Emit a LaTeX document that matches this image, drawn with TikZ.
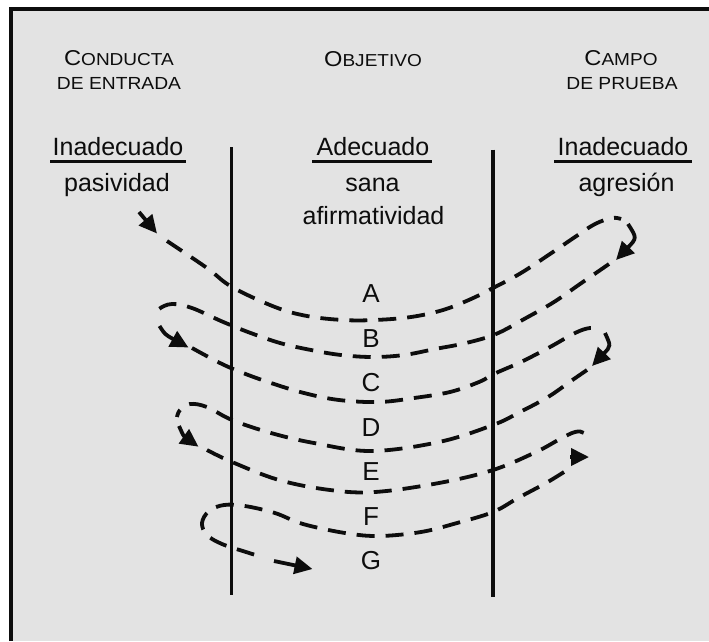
\documentclass[tikz,border=0pt]{standalone}
\usepackage{fontspec}
\setmainfont{Liberation Sans}
\newfontfamily\hdrfont[FakeStretch=1.1]{Liberation Sans}
\usetikzlibrary{arrows.meta}
\definecolor{bgfill}{HTML}{E3E3E3}
\definecolor{ink}{HTML}{0D0D0D}
\newcommand\hdrsc[2]{{\fontsize{21.5}{21.5}\selectfont #1}{\fontsize{17.3}{17.3}\selectfont #2}}
\begin{document}
\begin{tikzpicture}[x=1pt,y=-1pt,
  big/.style={font=\fontsize{25}{30}\selectfont, inner sep=0pt, anchor=base, text=ink},
  letter/.style={font=\fontsize{26}{30}\selectfont, inner sep=0pt, anchor=base, text=ink},
  hdr/.style={font=\hdrfont, inner sep=0pt, anchor=base, text=ink},
  hdrtwo/.style={font=\hdrfont\fontsize{17.5}{17.5}\selectfont, inner sep=0pt, anchor=base, text=ink},
  uline/.style={line width=3pt, ink},
  divider/.style={line width=3.5pt, ink},
  curve/.style={line width=3.8pt, ink, dash pattern=on 18pt off 11pt},
  lead/.style={line width=3.8pt, ink, -{Triangle[length=18pt,width=17pt]}},
  tip/.style={-{Triangle[length=18pt,width=17pt]}}]
\useasboundingbox (0,0) rectangle (709,641);
\fill[white] (0,0) rectangle (709,641);
\fill[bgfill] (11.3,8.5) rectangle (709,641);
\draw[line width=4pt, ink] (11.3,641) -- (11.3,8.5) -- (709,8.5);

% headers
\node[hdr] (h1a) at (119,65) {\hdrsc{C}{ONDUCTA}};
\node[hdrtwo] (h1b) at (119,89.3) {DE ENTRADA};
\node[hdr] (h2a) at (373,66) {\hdrsc{O}{BJETIVO}};
\node[hdr] (h3a) at (621,65) {\hdrsc{C}{AMPO}};
\node[hdrtwo] (h3b) at (622,89.3) {DE PRUEBA};

% column labels
\node[big] (l1) at (118,155) {Inadecuado};
\draw[uline] (50,161.5) -- (186,161.5);
\node[big] (l2) at (117,191) {pasividad};
\node[big] (m1) at (373,155) {Adecuado};
\draw[uline] (312,161.5) -- (432,161.5);
\node[big] (m2) at (372.5,191.5) {sana};
\node[big] (m3) at (373.5,224.3) {afirmatividad};
\node[big] (r1) at (623,155) {Inadecuado};
\draw[uline] (554,161.5) -- (692,161.5);
\node[big] (r2) at (626.5,191) {agresión};

% dividers
\draw[divider] (231.5,147) -- (231.5,595);
\draw[divider] (493,149.5) -- (493,597);

% letters
\node[letter] (la) at (371,302.5) {A};
\node[letter] (lb) at (371,347) {B};
\node[letter] (lc) at (371,391.5) {C};
\node[letter] (ld) at (371,436) {D};
\node[letter] (le) at (371,480.5) {E};
\node[letter] (lf) at (371,525) {F};
\node[letter] (lg) at (371,569.5) {G};

% start arrow
\draw[lead] (139,212) -- (157,233.5);
% A
\draw[curve] plot[smooth,tension=0.6] coordinates {(167,241) (207,268) (232,287) (275,307) (307,316) (343,320) (375,320) (411,317) (443,310) (471,299) (495,287) (521,273) (550,254) (575,237) (595,224) (612,218) (621,219)};
\draw[lead] (628,224) .. controls (637,238) .. (616,260);
% B
\draw[curve] plot[smooth,tension=0.6] coordinates {(609,264) (580,284) (554,302) (526,318) (496,334) (466,343) (435,349) (404,355) (373,357) (341,355) (311,350) (280,343) (248,332) (221,321) (192,308) (172,304) (159,309) (155,317)};
\draw[lead] (159.5,326) .. controls (165,334.5) .. (188.5,347.5);
% C
\draw[curve] plot[smooth,tension=0.6] coordinates {(192,348) (220,363) (243,373) (271,383) (304,393) (339,400) (379,402) (414,398) (450,392) (479,382) (496,373) (521,362) (550,347) (575,333) (590,328) (600,330)};
\draw[lead] (605,333) .. controls (611,346) .. (592,366);
% D
\draw[curve] plot[smooth,tension=0.6] coordinates {(587,370) (571,381) (548,397) (520,412) (493,425) (439,442) (371,451) (314,443) (271,433) (232,420) (207,407) (190,404) (180,410) (177,417)};
\draw[lead] (179,426) .. controls (183.5,436) .. (198.5,446.7);
% E
\draw[curve] plot[smooth,tension=0.6] coordinates {(207,450) (232,462) (279,480) (330,490) (375,492) (439,483) (493,470) (536,452) (560,439) (575,432) (584,433) (587,442)};
\draw[lead] (570,457) -- (589,457);
% F
\draw[curve] plot[smooth,tension=0.6] coordinates {(564,472) (546,483) (518,498) (493,512) (457,523) (421,532) (379,536) (345,533) (303,524) (275,513) (245,506) (224,505) (209,511) (202,523) (207,535) (222,544) (246,552) (262,557)};
\draw[lead] (274,561) -- (312.5,569);
\end{tikzpicture}
\end{document}
